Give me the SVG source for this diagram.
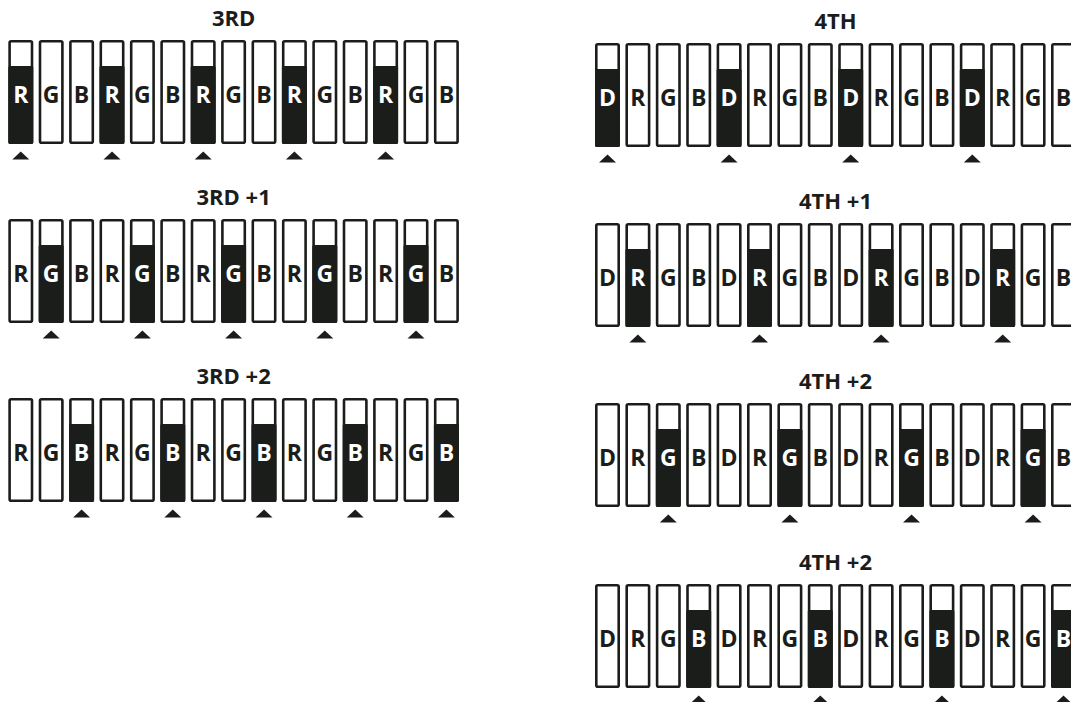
<svg xmlns="http://www.w3.org/2000/svg" width="1071" height="702" viewBox="0 0 1071 702">
<style>
.b{fill:#fff;stroke:#1b1d1b;stroke-width:2.6}
.d{fill:#1b1d1b}
.t{font-family:"Open Sans","Liberation Sans",sans-serif;font-weight:bold;font-size:22px;text-anchor:middle}
.l{fill:#1b1d1b}
.w{fill:#fff}
g g .t{font-size:23px}
</style>
<defs>
<rect id="box" class="b" x="1.3" y="1.3" width="22.4" height="101.4" rx="1.5"/>
<rect id="fill" class="d" x="0" y="26" width="25" height="78" rx="1.5"/>
<polygon id="tri" class="d" points="4,119.5 21,119.5 12.5,111.5"/>
</defs>
<rect width="1071" height="702" fill="#fff"/>

<!-- 3RD -->
<g id="p3rd" transform="translate(8.3,40)">
<text class="t l" x="225.3" y="-14">3RD</text>
<g id="p3rd-0" transform="translate(0,0)"><use href="#box"/><use href="#fill"/><text class="t w" x="12.5" y="63">R</text><use href="#tri"/></g>
<g id="p3rd-1" transform="translate(30.4,0)"><use href="#box"/><text class="t l" x="12.5" y="63">G</text></g>
<g id="p3rd-2" transform="translate(60.8,0)"><use href="#box"/><text class="t l" x="12.5" y="63">B</text></g>
<g id="p3rd-3" transform="translate(91.2,0)"><use href="#box"/><use href="#fill"/><text class="t w" x="12.5" y="63">R</text><use href="#tri"/></g>
<g id="p3rd-4" transform="translate(121.6,0)"><use href="#box"/><text class="t l" x="12.5" y="63">G</text></g>
<g id="p3rd-5" transform="translate(152,0)"><use href="#box"/><text class="t l" x="12.5" y="63">B</text></g>
<g id="p3rd-6" transform="translate(182.4,0)"><use href="#box"/><use href="#fill"/><text class="t w" x="12.5" y="63">R</text><use href="#tri"/></g>
<g id="p3rd-7" transform="translate(212.8,0)"><use href="#box"/><text class="t l" x="12.5" y="63">G</text></g>
<g id="p3rd-8" transform="translate(243.2,0)"><use href="#box"/><text class="t l" x="12.5" y="63">B</text></g>
<g id="p3rd-9" transform="translate(273.6,0)"><use href="#box"/><use href="#fill"/><text class="t w" x="12.5" y="63">R</text><use href="#tri"/></g>
<g id="p3rd-10" transform="translate(304,0)"><use href="#box"/><text class="t l" x="12.5" y="63">G</text></g>
<g id="p3rd-11" transform="translate(334.4,0)"><use href="#box"/><text class="t l" x="12.5" y="63">B</text></g>
<g id="p3rd-12" transform="translate(364.8,0)"><use href="#box"/><use href="#fill"/><text class="t w" x="12.5" y="63">R</text><use href="#tri"/></g>
<g id="p3rd-13" transform="translate(395.2,0)"><use href="#box"/><text class="t l" x="12.5" y="63">G</text></g>
<g id="p3rd-14" transform="translate(425.6,0)"><use href="#box"/><text class="t l" x="12.5" y="63">B</text></g>
</g>

<!-- 3RD +1 -->
<g id="p3rd1" transform="translate(8.3,219)">
<text class="t l" x="225.3" y="-14">3RD +1</text>
<g id="p3rd1-0" transform="translate(0,0)"><use href="#box"/><text class="t l" x="12.5" y="63">R</text></g>
<g id="p3rd1-1" transform="translate(30.4,0)"><use href="#box"/><use href="#fill"/><text class="t w" x="12.5" y="63">G</text><use href="#tri"/></g>
<g id="p3rd1-2" transform="translate(60.8,0)"><use href="#box"/><text class="t l" x="12.5" y="63">B</text></g>
<g id="p3rd1-3" transform="translate(91.2,0)"><use href="#box"/><text class="t l" x="12.5" y="63">R</text></g>
<g id="p3rd1-4" transform="translate(121.6,0)"><use href="#box"/><use href="#fill"/><text class="t w" x="12.5" y="63">G</text><use href="#tri"/></g>
<g id="p3rd1-5" transform="translate(152,0)"><use href="#box"/><text class="t l" x="12.5" y="63">B</text></g>
<g id="p3rd1-6" transform="translate(182.4,0)"><use href="#box"/><text class="t l" x="12.5" y="63">R</text></g>
<g id="p3rd1-7" transform="translate(212.8,0)"><use href="#box"/><use href="#fill"/><text class="t w" x="12.5" y="63">G</text><use href="#tri"/></g>
<g id="p3rd1-8" transform="translate(243.2,0)"><use href="#box"/><text class="t l" x="12.5" y="63">B</text></g>
<g id="p3rd1-9" transform="translate(273.6,0)"><use href="#box"/><text class="t l" x="12.5" y="63">R</text></g>
<g id="p3rd1-10" transform="translate(304,0)"><use href="#box"/><use href="#fill"/><text class="t w" x="12.5" y="63">G</text><use href="#tri"/></g>
<g id="p3rd1-11" transform="translate(334.4,0)"><use href="#box"/><text class="t l" x="12.5" y="63">B</text></g>
<g id="p3rd1-12" transform="translate(364.8,0)"><use href="#box"/><text class="t l" x="12.5" y="63">R</text></g>
<g id="p3rd1-13" transform="translate(395.2,0)"><use href="#box"/><use href="#fill"/><text class="t w" x="12.5" y="63">G</text><use href="#tri"/></g>
<g id="p3rd1-14" transform="translate(425.6,0)"><use href="#box"/><text class="t l" x="12.5" y="63">B</text></g>
</g>

<!-- 3RD +2 -->
<g id="p3rd2" transform="translate(8.3,398)">
<text class="t l" x="225.3" y="-14">3RD +2</text>
<g id="p3rd2-0" transform="translate(0,0)"><use href="#box"/><text class="t l" x="12.5" y="63">R</text></g>
<g id="p3rd2-1" transform="translate(30.4,0)"><use href="#box"/><text class="t l" x="12.5" y="63">G</text></g>
<g id="p3rd2-2" transform="translate(60.8,0)"><use href="#box"/><use href="#fill"/><text class="t w" x="12.5" y="63">B</text><use href="#tri"/></g>
<g id="p3rd2-3" transform="translate(91.2,0)"><use href="#box"/><text class="t l" x="12.5" y="63">R</text></g>
<g id="p3rd2-4" transform="translate(121.6,0)"><use href="#box"/><text class="t l" x="12.5" y="63">G</text></g>
<g id="p3rd2-5" transform="translate(152,0)"><use href="#box"/><use href="#fill"/><text class="t w" x="12.5" y="63">B</text><use href="#tri"/></g>
<g id="p3rd2-6" transform="translate(182.4,0)"><use href="#box"/><text class="t l" x="12.5" y="63">R</text></g>
<g id="p3rd2-7" transform="translate(212.8,0)"><use href="#box"/><text class="t l" x="12.5" y="63">G</text></g>
<g id="p3rd2-8" transform="translate(243.2,0)"><use href="#box"/><use href="#fill"/><text class="t w" x="12.5" y="63">B</text><use href="#tri"/></g>
<g id="p3rd2-9" transform="translate(273.6,0)"><use href="#box"/><text class="t l" x="12.5" y="63">R</text></g>
<g id="p3rd2-10" transform="translate(304,0)"><use href="#box"/><text class="t l" x="12.5" y="63">G</text></g>
<g id="p3rd2-11" transform="translate(334.4,0)"><use href="#box"/><use href="#fill"/><text class="t w" x="12.5" y="63">B</text><use href="#tri"/></g>
<g id="p3rd2-12" transform="translate(364.8,0)"><use href="#box"/><text class="t l" x="12.5" y="63">R</text></g>
<g id="p3rd2-13" transform="translate(395.2,0)"><use href="#box"/><text class="t l" x="12.5" y="63">G</text></g>
<g id="p3rd2-14" transform="translate(425.6,0)"><use href="#box"/><use href="#fill"/><text class="t w" x="12.5" y="63">B</text><use href="#tri"/></g>
</g>

<!-- 4TH -->
<g id="p4th" transform="translate(595,43)">
<text class="t l" x="240.5" y="-14">4TH</text>
<g id="p4th-0" transform="translate(0,0)"><use href="#box"/><use href="#fill"/><text class="t w" x="12.5" y="63">D</text><use href="#tri"/></g>
<g id="p4th-1" transform="translate(30.4,0)"><use href="#box"/><text class="t l" x="12.5" y="63">R</text></g>
<g id="p4th-2" transform="translate(60.8,0)"><use href="#box"/><text class="t l" x="12.5" y="63">G</text></g>
<g id="p4th-3" transform="translate(91.2,0)"><use href="#box"/><text class="t l" x="12.5" y="63">B</text></g>
<g id="p4th-4" transform="translate(121.6,0)"><use href="#box"/><use href="#fill"/><text class="t w" x="12.5" y="63">D</text><use href="#tri"/></g>
<g id="p4th-5" transform="translate(152,0)"><use href="#box"/><text class="t l" x="12.5" y="63">R</text></g>
<g id="p4th-6" transform="translate(182.4,0)"><use href="#box"/><text class="t l" x="12.5" y="63">G</text></g>
<g id="p4th-7" transform="translate(212.8,0)"><use href="#box"/><text class="t l" x="12.5" y="63">B</text></g>
<g id="p4th-8" transform="translate(243.2,0)"><use href="#box"/><use href="#fill"/><text class="t w" x="12.5" y="63">D</text><use href="#tri"/></g>
<g id="p4th-9" transform="translate(273.6,0)"><use href="#box"/><text class="t l" x="12.5" y="63">R</text></g>
<g id="p4th-10" transform="translate(304,0)"><use href="#box"/><text class="t l" x="12.5" y="63">G</text></g>
<g id="p4th-11" transform="translate(334.4,0)"><use href="#box"/><text class="t l" x="12.5" y="63">B</text></g>
<g id="p4th-12" transform="translate(364.8,0)"><use href="#box"/><use href="#fill"/><text class="t w" x="12.5" y="63">D</text><use href="#tri"/></g>
<g id="p4th-13" transform="translate(395.2,0)"><use href="#box"/><text class="t l" x="12.5" y="63">R</text></g>
<g id="p4th-14" transform="translate(425.6,0)"><use href="#box"/><text class="t l" x="12.5" y="63">G</text></g>
<g id="p4th-15" transform="translate(456,0)"><use href="#box"/><text class="t l" x="12.5" y="63">B</text></g>
</g>

<!-- 4TH +1 -->
<g id="p4th1" transform="translate(595,223)">
<text class="t l" x="240.5" y="-14">4TH +1</text>
<g id="p4th1-0" transform="translate(0,0)"><use href="#box"/><text class="t l" x="12.5" y="63">D</text></g>
<g id="p4th1-1" transform="translate(30.4,0)"><use href="#box"/><use href="#fill"/><text class="t w" x="12.5" y="63">R</text><use href="#tri"/></g>
<g id="p4th1-2" transform="translate(60.8,0)"><use href="#box"/><text class="t l" x="12.5" y="63">G</text></g>
<g id="p4th1-3" transform="translate(91.2,0)"><use href="#box"/><text class="t l" x="12.5" y="63">B</text></g>
<g id="p4th1-4" transform="translate(121.6,0)"><use href="#box"/><text class="t l" x="12.5" y="63">D</text></g>
<g id="p4th1-5" transform="translate(152,0)"><use href="#box"/><use href="#fill"/><text class="t w" x="12.5" y="63">R</text><use href="#tri"/></g>
<g id="p4th1-6" transform="translate(182.4,0)"><use href="#box"/><text class="t l" x="12.5" y="63">G</text></g>
<g id="p4th1-7" transform="translate(212.8,0)"><use href="#box"/><text class="t l" x="12.5" y="63">B</text></g>
<g id="p4th1-8" transform="translate(243.2,0)"><use href="#box"/><text class="t l" x="12.5" y="63">D</text></g>
<g id="p4th1-9" transform="translate(273.6,0)"><use href="#box"/><use href="#fill"/><text class="t w" x="12.5" y="63">R</text><use href="#tri"/></g>
<g id="p4th1-10" transform="translate(304,0)"><use href="#box"/><text class="t l" x="12.5" y="63">G</text></g>
<g id="p4th1-11" transform="translate(334.4,0)"><use href="#box"/><text class="t l" x="12.5" y="63">B</text></g>
<g id="p4th1-12" transform="translate(364.8,0)"><use href="#box"/><text class="t l" x="12.5" y="63">D</text></g>
<g id="p4th1-13" transform="translate(395.2,0)"><use href="#box"/><use href="#fill"/><text class="t w" x="12.5" y="63">R</text><use href="#tri"/></g>
<g id="p4th1-14" transform="translate(425.6,0)"><use href="#box"/><text class="t l" x="12.5" y="63">G</text></g>
<g id="p4th1-15" transform="translate(456,0)"><use href="#box"/><text class="t l" x="12.5" y="63">B</text></g>
</g>

<!-- 4TH +2 (G) -->
<g id="p4th2" transform="translate(595,403)">
<text class="t l" x="240.5" y="-14">4TH +2</text>
<g id="p4th2-0" transform="translate(0,0)"><use href="#box"/><text class="t l" x="12.5" y="63">D</text></g>
<g id="p4th2-1" transform="translate(30.4,0)"><use href="#box"/><text class="t l" x="12.5" y="63">R</text></g>
<g id="p4th2-2" transform="translate(60.8,0)"><use href="#box"/><use href="#fill"/><text class="t w" x="12.5" y="63">G</text><use href="#tri"/></g>
<g id="p4th2-3" transform="translate(91.2,0)"><use href="#box"/><text class="t l" x="12.5" y="63">B</text></g>
<g id="p4th2-4" transform="translate(121.6,0)"><use href="#box"/><text class="t l" x="12.5" y="63">D</text></g>
<g id="p4th2-5" transform="translate(152,0)"><use href="#box"/><text class="t l" x="12.5" y="63">R</text></g>
<g id="p4th2-6" transform="translate(182.4,0)"><use href="#box"/><use href="#fill"/><text class="t w" x="12.5" y="63">G</text><use href="#tri"/></g>
<g id="p4th2-7" transform="translate(212.8,0)"><use href="#box"/><text class="t l" x="12.5" y="63">B</text></g>
<g id="p4th2-8" transform="translate(243.2,0)"><use href="#box"/><text class="t l" x="12.5" y="63">D</text></g>
<g id="p4th2-9" transform="translate(273.6,0)"><use href="#box"/><text class="t l" x="12.5" y="63">R</text></g>
<g id="p4th2-10" transform="translate(304,0)"><use href="#box"/><use href="#fill"/><text class="t w" x="12.5" y="63">G</text><use href="#tri"/></g>
<g id="p4th2-11" transform="translate(334.4,0)"><use href="#box"/><text class="t l" x="12.5" y="63">B</text></g>
<g id="p4th2-12" transform="translate(364.8,0)"><use href="#box"/><text class="t l" x="12.5" y="63">D</text></g>
<g id="p4th2-13" transform="translate(395.2,0)"><use href="#box"/><text class="t l" x="12.5" y="63">R</text></g>
<g id="p4th2-14" transform="translate(425.6,0)"><use href="#box"/><use href="#fill"/><text class="t w" x="12.5" y="63">G</text><use href="#tri"/></g>
<g id="p4th2-15" transform="translate(456,0)"><use href="#box"/><text class="t l" x="12.5" y="63">B</text></g>
</g>

<!-- 4TH +2 (B) -->
<g id="p4th3" transform="translate(595,584)">
<text class="t l" x="240.5" y="-14">4TH +2</text>
<g id="p4th3-0" transform="translate(0,0)"><use href="#box"/><text class="t l" x="12.5" y="63">D</text></g>
<g id="p4th3-1" transform="translate(30.4,0)"><use href="#box"/><text class="t l" x="12.5" y="63">R</text></g>
<g id="p4th3-2" transform="translate(60.8,0)"><use href="#box"/><text class="t l" x="12.5" y="63">G</text></g>
<g id="p4th3-3" transform="translate(91.2,0)"><use href="#box"/><use href="#fill"/><text class="t w" x="12.5" y="63">B</text><use href="#tri"/></g>
<g id="p4th3-4" transform="translate(121.6,0)"><use href="#box"/><text class="t l" x="12.5" y="63">D</text></g>
<g id="p4th3-5" transform="translate(152,0)"><use href="#box"/><text class="t l" x="12.5" y="63">R</text></g>
<g id="p4th3-6" transform="translate(182.4,0)"><use href="#box"/><text class="t l" x="12.5" y="63">G</text></g>
<g id="p4th3-7" transform="translate(212.8,0)"><use href="#box"/><use href="#fill"/><text class="t w" x="12.5" y="63">B</text><use href="#tri"/></g>
<g id="p4th3-8" transform="translate(243.2,0)"><use href="#box"/><text class="t l" x="12.5" y="63">D</text></g>
<g id="p4th3-9" transform="translate(273.6,0)"><use href="#box"/><text class="t l" x="12.5" y="63">R</text></g>
<g id="p4th3-10" transform="translate(304,0)"><use href="#box"/><text class="t l" x="12.5" y="63">G</text></g>
<g id="p4th3-11" transform="translate(334.4,0)"><use href="#box"/><use href="#fill"/><text class="t w" x="12.5" y="63">B</text><use href="#tri"/></g>
<g id="p4th3-12" transform="translate(364.8,0)"><use href="#box"/><text class="t l" x="12.5" y="63">D</text></g>
<g id="p4th3-13" transform="translate(395.2,0)"><use href="#box"/><text class="t l" x="12.5" y="63">R</text></g>
<g id="p4th3-14" transform="translate(425.6,0)"><use href="#box"/><text class="t l" x="12.5" y="63">G</text></g>
<g id="p4th3-15" transform="translate(456,0)"><use href="#box"/><use href="#fill"/><text class="t w" x="12.5" y="63">B</text><use href="#tri"/></g>
</g>
<g id="connectors"/>
</svg>
